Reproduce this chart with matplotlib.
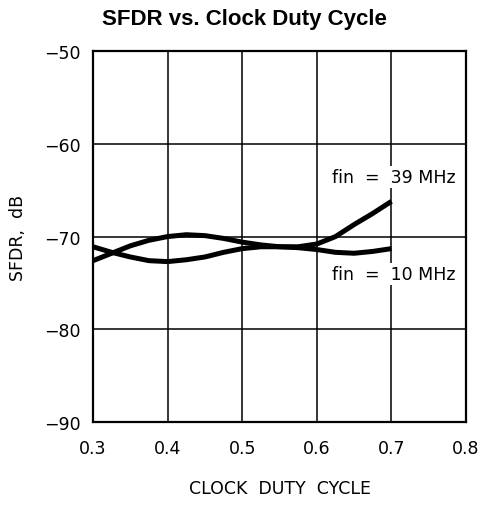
import matplotlib.pyplot as plt
import numpy as np

duty = [0.300, 0.325, 0.350, 0.375, 0.400, 0.425, 0.450, 0.475, 0.500,
        0.525, 0.550, 0.575, 0.600, 0.625, 0.650, 0.675, 0.700]
sfdr_39 = [-72.6, -71.8, -71.0, -70.4, -70.0, -69.8, -69.9, -70.2, -70.6,
           -70.9, -71.1, -71.1, -70.8, -70.0, -68.7, -67.5, -66.2]
sfdr_10 = [-71.1, -71.7, -72.2, -72.6, -72.7, -72.5, -72.2, -71.7, -71.3,
           -71.1, -71.1, -71.2, -71.4, -71.7, -71.8, -71.6, -71.3]

xticks = [0.3, 0.4, 0.5, 0.6, 0.7, 0.8]
yticks = [-90, -80, -70, -60, -50]

plt.rcParams['font.family'] = 'DejaVu Sans'

fig = plt.figure(figsize=(4.82, 5.06), dpi=100)
ax = fig.add_axes([0.193, 0.164, 0.774, 0.733])

ax.plot(duty, sfdr_39, color='black', lw=3.6, solid_capstyle='butt',
        solid_joinstyle='round', zorder=3)
ax.plot(duty, sfdr_10, color='black', lw=3.6, solid_capstyle='butt',
        solid_joinstyle='round', zorder=3)

ax.set_xlim(0.3, 0.8)
ax.set_ylim(-90, -50)
ax.set_xticks(xticks)
ax.set_yticks(yticks)
ax.set_xticklabels(['%.1f' % v for v in xticks])
ax.set_yticklabels(['\u2212%d' % abs(v) for v in yticks])
ax.tick_params(axis='x', length=0, labelsize=12.5, pad=12)
ax.tick_params(axis='y', length=0, labelsize=12.5, pad=9)
ax.grid(True, color='black', lw=1.1)
ax.set_axisbelow(True)
for s in ax.spines.values():
    s.set_linewidth(1.6)

box = dict(facecolor='white', edgecolor='none', pad=1.5)
ax.text(0.703, -63.6, 'fin  =  39 MHz', ha='center', va='center',
        fontsize=12.5, bbox=box, zorder=4)
ax.text(0.703, -74.0, 'fin  =  10 MHz', ha='center', va='center',
        fontsize=12.5, bbox=box, zorder=4)

ax.set_xlabel('CLOCK  DUTY  CYCLE', fontsize=12.5, labelpad=16)
ax.set_ylabel('SFDR,  dB', fontsize=12.5, labelpad=12)
fig.text(0.508, 0.962, 'SFDR vs. Clock Duty Cycle', ha='center',
         va='center', fontsize=16, fontweight='bold', family='Liberation Sans')

fig.savefig('out.png', dpi=100, facecolor='white')
